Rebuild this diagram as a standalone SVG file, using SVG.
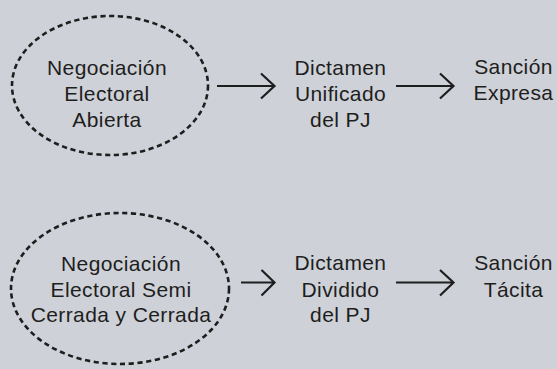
<svg xmlns="http://www.w3.org/2000/svg" width="557" height="369" viewBox="0 0 557 369">
<style>
.lbl{font-family:"Liberation Sans",Arial,Helvetica,sans-serif;font-size:21px;letter-spacing:0.4px;fill:#1e1e1e;text-anchor:middle}
.dash{fill:none;stroke:#1e1e1e;stroke-width:2.6;stroke-dasharray:5.2 3.6}
.conn{fill:none;stroke:#1e1e1e;stroke-width:2.2;stroke-linecap:butt;stroke-linejoin:miter}
</style>
<rect x="0" y="0" width="557" height="369" fill="#ced1d7"/>
<g id="node-neg-abierta">
<ellipse class="dash" cx="110" cy="85.5" rx="98" ry="69.5"/>
<text class="lbl" x="107" y="75">Negociación</text>
<text class="lbl" x="107" y="101">Electoral</text>
<text class="lbl" x="107" y="127">Abierta</text>
</g>
<g id="node-dictamen-unificado">
<text class="lbl" x="340.5" y="75">Dictamen</text>
<text class="lbl" x="340.5" y="101">Unificado</text>
<text class="lbl" x="340.5" y="127">del PJ</text>
</g>
<g id="node-sancion-expresa">
<text class="lbl" x="513.5" y="73.5">Sanción</text>
<text class="lbl" x="513.5" y="99.5">Expresa</text>
</g>
<g id="node-neg-cerrada">
<ellipse class="dash" cx="120" cy="288.5" rx="109" ry="75.5"/>
<text class="lbl" x="121" y="271">Negociación</text>
<text class="lbl" x="121" y="296.5">Electoral Semi</text>
<text class="lbl" x="121" y="322">Cerrada y Cerrada</text>
</g>
<g id="node-dictamen-dividido">
<text class="lbl" x="340.5" y="270">Dictamen</text>
<text class="lbl" x="340.5" y="296.5">Dividido</text>
<text class="lbl" x="340.5" y="322">del PJ</text>
</g>
<g id="node-sancion-tacita">
<text class="lbl" x="513.5" y="270">Sanción</text>
<text class="lbl" x="513.5" y="296.5">Tácita</text>
</g>
<g id="connectors">
<path class="conn" d="M217 86 H274.5 M261 73.5 L274.5 86 L261 98.5"/>
<path class="conn" d="M396 86 H453.5 M440 73.5 L453.5 86 L440 98.5"/>
<path class="conn" d="M241 282.5 H274.5 M261.5 270 L274.5 282.5 L261.5 295.5"/>
<path class="conn" d="M396 282.5 H453.5 M440 270 L453.5 282.5 L440 295.5"/>
</g>
</svg>
